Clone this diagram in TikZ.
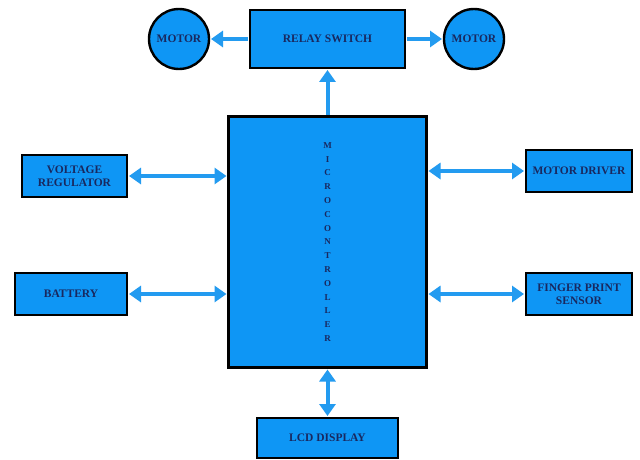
\documentclass[tikz,border=0pt]{standalone}
\usepackage{fontspec}
\setmainfont{Liberation Serif}
\usetikzlibrary{arrows.meta}
\definecolor{boxblue}{RGB}{14,150,245}
\definecolor{arrowblue}{RGB}{35,155,240}
\definecolor{txt}{RGB}{25,40,95}
\begin{document}
\begin{tikzpicture}[x=1pt,y=-1pt,
 blk/.style={draw=black, line width=2.4pt, fill=boxblue, inner sep=0pt, outer sep=0pt,
   font=\bfseries\fontsize{11.5}{12.5}\selectfont, text=txt, align=center},
 mot/.style={blk, circle, minimum size=60pt},
 conn/.style={draw=arrowblue, line width=4pt, shorten <=2pt, shorten >=2pt,
   -{Triangle[length=12pt,width=16pt]}},
 bi/.style={conn, {Triangle[length=12pt,width=16pt]}-{Triangle[length=12pt,width=16pt]}}
]
\useasboundingbox[fill=white] (0,0) rectangle (640,460);
\node[blk, minimum width=155pt, minimum height=58pt] (relay) at (327.5,39) {RELAY SWITCH};
\node[mot] (motorL) at (179,39) {MOTOR};
\node[mot] (motorR) at (474,39) {MOTOR};
\node[blk, minimum width=198pt, minimum height=251pt,
  font=\bfseries\fontsize{9}{13.8}\selectfont] (mc) at (327.5,242)
  {M\\I\\C\\R\\O\\C\\O\\N\\T\\R\\O\\L\\L\\E\\R};
\node[blk, minimum width=105pt, minimum height=42pt] (vr) at (74.5,176) {VOLTAGE\\REGULATOR};
\node[blk, minimum width=112pt, minimum height=42pt] (bat) at (71,294) {BATTERY};
\node[blk, minimum width=106pt, minimum height=42pt] (md) at (579,171) {MOTOR DRIVER};
\node[blk, minimum width=106pt, minimum height=42pt] (fp) at (579,294) {FINGER PRINT\\SENSOR};
\node[blk, minimum width=141pt, minimum height=40pt] (lcd) at (327.5,438) {LCD DISPLAY};

\draw[conn] (relay.west) -- (motorL.east);
\draw[conn] (relay.east) -- (motorR.west);
\draw[conn] (mc.north) -- (relay.south);
\draw[bi] (vr.east) -- (vr.east -| mc.west);
\draw[bi] (bat.east) -- (bat.east -| mc.west);
\draw[bi] (md.west -| mc.east) -- (md.west);
\draw[bi] (fp.west -| mc.east) -- (fp.west);
\draw[bi] (mc.south) -- (lcd.north);
\end{tikzpicture}
\end{document}
